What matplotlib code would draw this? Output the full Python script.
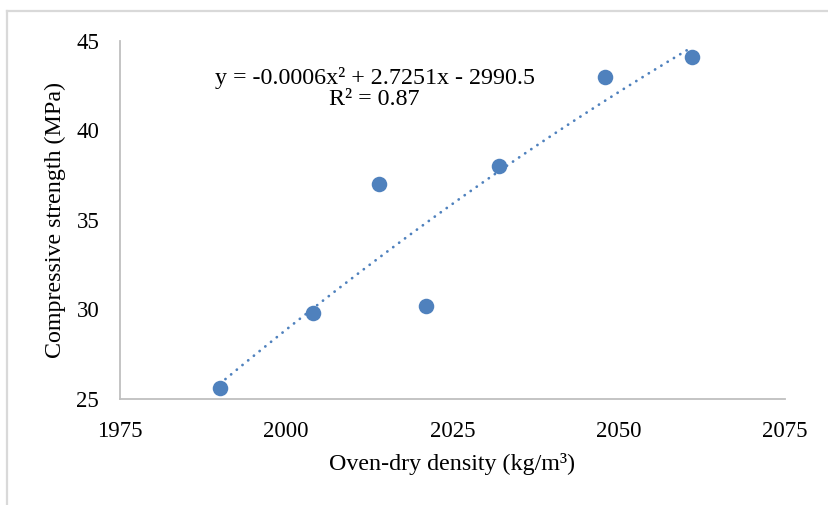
import numpy as np
import matplotlib
matplotlib.use("Agg")
import matplotlib.pyplot as plt
from matplotlib.lines import Line2D

# oven-dry density (kg/m3) vs compressive strength (MPa)
density = [1990, 2004, 2014, 2021, 2032, 2048, 2061]
strength = [25.6, 29.8, 37.0, 30.2, 38.0, 43.0, 44.1]

x_ticks = [1975, 2000, 2025, 2050, 2075]
y_ticks = [25, 30, 35, 40, 45]

eq_text = "y = -0.0006x² + 2.7251x - 2990.5\nR² = 0.87"

plt.rcParams['font.family'] = ['Liberation Serif', 'DejaVu Serif']

fig = plt.figure(figsize=(8.29, 5.05), dpi=100)
ax = fig.add_axes([120 / 829, 1 - 399 / 505, 665 / 829, 358 / 505])

blue = '#4F81BD'

# quadratic trendline (Excel style, dotted)
coef = np.polyfit(density, strength, 2)
xs = np.linspace(min(density), max(density), 200)
ax.plot(xs, np.polyval(coef, xs), color=blue, lw=2.0,
        linestyle=(0, (0.05, 2.6)), dash_capstyle='round', zorder=2)

ax.scatter(density, strength, s=125, color=blue, zorder=3, linewidths=0)

ax.set_xlim(1975, 2075)
ax.set_ylim(25, 45)
ax.set_xticks(x_ticks)
ax.set_yticks(y_ticks)
ax.tick_params(length=0, labelsize=16.5, colors='black')
ax.tick_params(axis='x', pad=16)
ax.tick_params(axis='y', pad=15)

for s in ['top', 'right']:
    ax.spines[s].set_visible(False)
for s in ['left', 'bottom']:
    ax.spines[s].set_color('#BFBFBF')
    ax.spines[s].set_linewidth(1.3)

ax.set_xlabel("Oven-dry density (kg/m³)", fontsize=17.3, va='top')
ax.xaxis.set_label_coords(0.5, -0.150)
ax.set_ylabel("Compressive strength (MPa)", fontsize=17.3, va='center')
ax.yaxis.set_label_coords(-0.0977, 0.5)

ax.text(0.383, 0.866, eq_text, transform=ax.transAxes, fontsize=17.3,
        ha='center', va='center', multialignment='center', linespacing=1.0)

# light frame round the chart area
fig.add_artist(Line2D([7 / 829, 7 / 829], [0, 1 - 11 / 505],
                      transform=fig.transFigure, color='#D9D9D9', lw=1.6))
fig.add_artist(Line2D([7 / 829, 1], [1 - 11 / 505, 1 - 11 / 505],
                      transform=fig.transFigure, color='#D9D9D9', lw=1.6))

fig.savefig("out.png", dpi=100)
